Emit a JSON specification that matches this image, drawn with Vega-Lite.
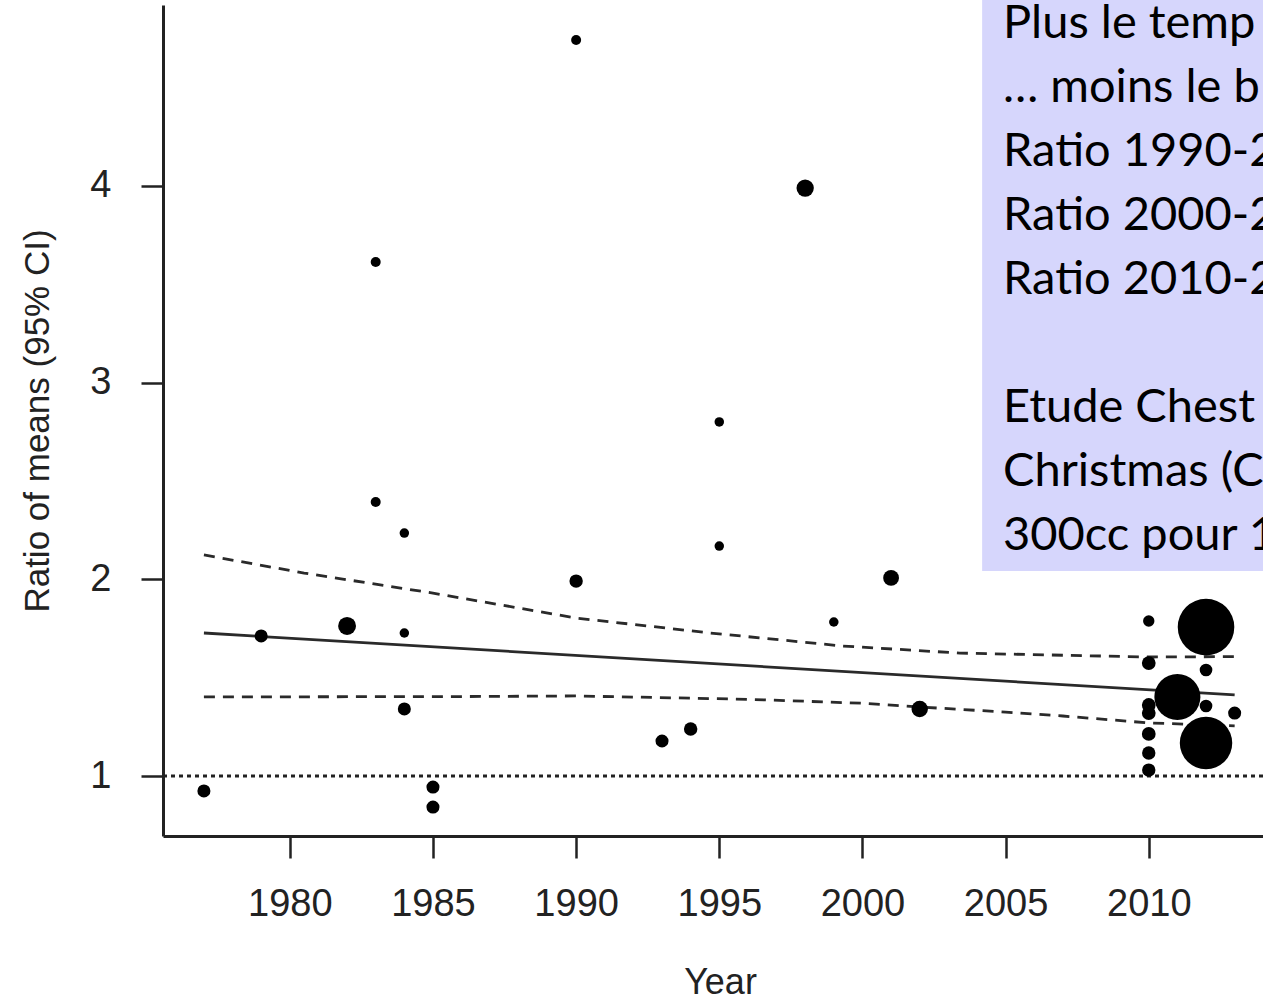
{
  "$schema": "https://vega.github.io/schema/vega-lite/v6.json",
  "width": 1100,
  "height": 831,
  "autosize": {"type": "none"},
  "padding": {"left": 163, "top": 5, "right": 0, "bottom": 169},
  "background": "white",
  "config": {"view": {"stroke": null}, "font": "Liberation Sans"},
  "datasets": {
    "points": [
      {"year": 1977, "ratio": 0.924, "weight": 17},
      {"year": 1979, "ratio": 1.712, "weight": 17},
      {"year": 1982, "ratio": 1.763, "weight": 32},
      {"year": 1983, "ratio": 3.613, "weight": 10},
      {"year": 1983, "ratio": 2.393, "weight": 10},
      {"year": 1984, "ratio": 2.235, "weight": 9},
      {"year": 1984, "ratio": 1.727, "weight": 9},
      {"year": 1984, "ratio": 1.341, "weight": 17},
      {"year": 1985, "ratio": 0.944, "weight": 17},
      {"year": 1985, "ratio": 0.842, "weight": 17},
      {"year": 1990, "ratio": 4.742, "weight": 10},
      {"year": 1990, "ratio": 1.991, "weight": 18},
      {"year": 1993, "ratio": 1.178, "weight": 17},
      {"year": 1994, "ratio": 1.239, "weight": 18},
      {"year": 1995, "ratio": 2.8, "weight": 9},
      {"year": 1995, "ratio": 2.169, "weight": 9},
      {"year": 1998, "ratio": 3.989, "weight": 30},
      {"year": 1999, "ratio": 1.783, "weight": 9},
      {"year": 2001, "ratio": 2.007, "weight": 25},
      {"year": 2002, "ratio": 1.341, "weight": 27},
      {"year": 2010, "ratio": 1.788, "weight": 13},
      {"year": 2010, "ratio": 1.574, "weight": 19},
      {"year": 2010, "ratio": 1.361, "weight": 19},
      {"year": 2010, "ratio": 1.32, "weight": 19},
      {"year": 2010, "ratio": 1.214, "weight": 19},
      {"year": 2010, "ratio": 1.117, "weight": 18},
      {"year": 2010, "ratio": 1.03, "weight": 18},
      {"year": 2011, "ratio": 1.402, "weight": 212},
      {"year": 2012, "ratio": 1.757, "weight": 320},
      {"year": 2012, "ratio": 1.168, "weight": 275},
      {"year": 2012, "ratio": 1.539, "weight": 16},
      {"year": 2012, "ratio": 1.356, "weight": 16},
      {"year": 2013, "ratio": 1.32, "weight": 17}
    ],
    "curves": [
      {"series": "fit", "year": 1977, "value": 1.727},
      {"series": "fit", "year": 2013, "value": 1.412},
      {"series": "upper", "year": 1977, "value": 2.124},
      {"series": "upper", "year": 1980.5, "value": 2.032},
      {"series": "upper", "year": 1985, "value": 1.93},
      {"series": "upper", "year": 1990, "value": 1.803},
      {"series": "upper", "year": 1994.7, "value": 1.727},
      {"series": "upper", "year": 1999.3, "value": 1.661},
      {"series": "upper", "year": 2003.4, "value": 1.625},
      {"series": "upper", "year": 2010, "value": 1.605},
      {"series": "upper", "year": 2013, "value": 1.607},
      {"series": "lower", "year": 1977, "value": 1.402},
      {"series": "lower", "year": 1986, "value": 1.404},
      {"series": "lower", "year": 1990, "value": 1.407},
      {"series": "lower", "year": 1996, "value": 1.39},
      {"series": "lower", "year": 2000, "value": 1.37},
      {"series": "lower", "year": 2002, "value": 1.351},
      {"series": "lower", "year": 2005, "value": 1.325},
      {"series": "lower", "year": 2007, "value": 1.305},
      {"series": "lower", "year": 2010, "value": 1.27},
      {"series": "lower", "year": 2013, "value": 1.255}
    ],
    "reference": [{"ratio": 1}],
    "box": [{"x0": 2004.18, "x1": 2016, "y0": 5.0, "y1": 2.042}],
    "notes": [
      {"x": 2004.91, "y": 4.752, "line": "Plus le temp"},
      {"x": 2004.91, "y": 4.427, "line": "… moins le b"},
      {"x": 2004.91, "y": 4.101, "line": "Ratio 1990-2"},
      {"x": 2004.91, "y": 3.776, "line": "Ratio 2000-2"},
      {"x": 2004.91, "y": 3.45, "line": "Ratio 2010-2"},
      {"x": 2004.91, "y": 2.8, "line": "Etude Chest"},
      {"x": 2004.91, "y": 2.474, "line": "Christmas (C"},
      {"x": 2004.91, "y": 2.149, "line": "300cc pour 1"}
    ]
  },
  "layer": [
    {
      "data": {"name": "reference"},
      "mark": {"type": "rule", "color": "#222", "strokeWidth": 3, "strokeDash": [4, 4]},
      "encoding": {
        "y": {"field": "ratio", "type": "quantitative", "scale": {"domain": [0.695, 4.92], "nice": false, "zero": false}}
      }
    },
    {
      "data": {"name": "curves"},
      "transform": [{"filter": "datum.series === 'fit'"}],
      "mark": {"type": "line", "color": "#2a2a2a", "strokeWidth": 2.8},
      "encoding": {
        "x": {"field": "year", "type": "quantitative"},
        "y": {"field": "value", "type": "quantitative"}
      }
    },
    {
      "data": {"name": "curves"},
      "transform": [{"filter": "datum.series !== 'fit'"}],
      "mark": {"type": "line", "color": "#2a2a2a", "strokeWidth": 2.8, "strokeDash": [11, 8]},
      "encoding": {
        "x": {"field": "year", "type": "quantitative"},
        "y": {"field": "value", "type": "quantitative"},
        "detail": {"field": "series", "type": "nominal"}
      }
    },
    {
      "data": {"name": "points"},
      "mark": {"type": "circle", "color": "black", "opacity": 1},
      "encoding": {
        "x": {
          "field": "year", "type": "quantitative",
          "scale": {"domain": [1975.571, 2013.99], "nice": false, "zero": false},
          "axis": {
            "title": "Year", "values": [1980, 1985, 1990, 1995, 2000, 2005, 2010],
            "format": "d", "grid": false,
            "domainColor": "#222", "domainWidth": 3,
            "tickColor": "#222", "tickWidth": 2.5, "tickSize": 22,
            "labelFont": "Liberation Sans", "labelFontSize": 38, "labelColor": "#222", "labelPadding": 27,
            "titleFont": "Liberation Sans", "titleFontSize": 36, "titleFontWeight": "normal", "titleColor": "#222",
            "titlePadding": 42, "titleX": 557
          }
        },
        "y": {
          "field": "ratio", "type": "quantitative",
          "axis": {
            "title": "Ratio of means (95% CI)", "values": [1, 2, 3, 4],
            "format": "d", "grid": false,
            "domainColor": "#222", "domainWidth": 3,
            "tickColor": "#222", "tickWidth": 2.5, "tickSize": 22,
            "labelFont": "Liberation Sans", "labelFontSize": 38, "labelColor": "#222", "labelPadding": 30,
            "titleFont": "Liberation Sans", "titleFontSize": 35, "titleFontWeight": "normal", "titleColor": "#222",
            "titlePadding": 34
          }
        },
        "size": {"field": "weight", "type": "quantitative", "scale": {"domain": [0, 400], "range": [0, 4000], "zero": true}, "legend": null}
      }
    },
    {
      "data": {"name": "box"},
      "mark": {"type": "rect", "color": "#d6d6fc", "opacity": 1},
      "encoding": {
        "x": {"field": "x0", "type": "quantitative"},
        "x2": {"field": "x1"},
        "y": {"field": "y0", "type": "quantitative"},
        "y2": {"field": "y1"}
      }
    },
    {
      "data": {"name": "notes"},
      "mark": {"type": "text", "font": "Lato", "fontSize": 47, "color": "black", "align": "left", "baseline": "alphabetic"},
      "encoding": {
        "x": {"field": "x", "type": "quantitative"},
        "y": {"field": "y", "type": "quantitative"},
        "text": {"field": "line"}
      }
    }
  ]
}
